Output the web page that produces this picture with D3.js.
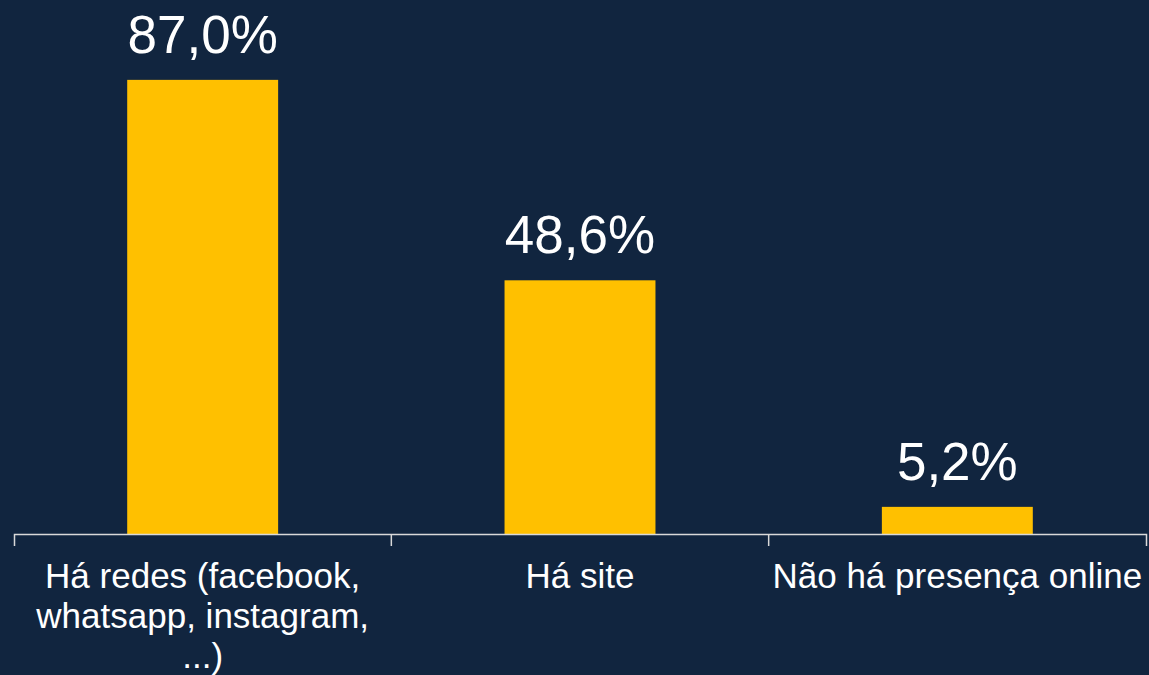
<!DOCTYPE html>
<html>
<head>
<meta charset="utf-8">
<script src="https://cdn.jsdelivr.net/npm/d3@7"></script>
<style>
  html, body { margin: 0; padding: 0; background: #11253f; }
  svg { display: block; }
</style>
</head>
<body>
<svg id="canvas"></svg>
<script>
let categories = ["Há redes (facebook, whatsapp, instagram, ...)", "Há site", "Não há presença online"]
let values = [87.0, 48.6, 5.2]

let width = 1149
let height = 675
let plotLeft = 14
let plotRight = 1146
let baseline = 534
let plotTop = 12

let svg = d3.select("#canvas")
svg.attr("width", width)
svg.attr("height", height)

svg.append("rect")
    .attr("width", width)
    .attr("height", height)
    .attr("fill", "#11253f")

let xScale = d3.scaleBand()
    .domain(categories)
    .range([plotLeft, plotRight])
    .paddingInner(0.6)
    .paddingOuter(0.3)

let yScale = d3.scaleLinear()
    .domain([0, 100])
    .range([baseline, plotTop])

let fmt = v => d3.format(".1f")(v).replace(".", ",") + "%"

svg.selectAll("rect.bar")
    .data(values)
    .enter()
    .append("rect")
    .attr("class", "bar")
    .attr("fill", "#ffc000")
    .attr("x", (d, i) => xScale(categories[i]))
    .attr("width", xScale.bandwidth())
    .attr("y", d => yScale(d))
    .attr("height", d => baseline - yScale(d))

svg.selectAll("text.value")
    .data(values)
    .enter()
    .append("text")
    .attr("class", "value")
    .attr("x", (d, i) => xScale(categories[i]) + xScale.bandwidth() / 2)
    .attr("y", d => yScale(d) - 27)
    .attr("text-anchor", "middle")
    .attr("fill", "#ffffff")
    .style("font-family", "'Liberation Sans', Arial, sans-serif")
    .style("font-size", "53px")
    .text(d => fmt(d))

// wrap long category names into lines
let wrap = (texts, w) => {
    texts.each(function () {
        let text = d3.select(this)
        let words = text.text().split(/\s+/)
        let y = text.attr("y")
        text.text(null)
        let line = []
        let lineNo = 0
        let tspan = text.append("tspan").attr("x", 0).attr("y", y).attr("dy", "0em")
        words.forEach(word => {
            line.push(word)
            tspan.text(line.join(" "))
            if (tspan.node().getComputedTextLength() > w && line.length > 1) {
                line.pop()
                tspan.text(line.join(" "))
                line = [word]
                lineNo++
                tspan = text.append("tspan").attr("x", 0).attr("y", y)
                    .attr("dy", (lineNo * 1.14) + "em").text(word)
            }
        })
    })
}

let xAxis = d3.axisBottom(xScale)
    .tickSize(0)
    .tickSizeOuter(12)
    .tickPadding(0)

let axisG = svg.append("g")
    .attr("id", "x-axis")
    .attr("transform", "translate(0," + baseline + ")")
    .call(xAxis)

axisG.select(".domain")
    .attr("stroke", "#d9d9d9")
    .attr("stroke-width", 1.5)

axisG.selectAll(".tick text")
    .attr("fill", "#ffffff")
    .attr("y", 54)
    .attr("dy", 0)
    .style("font-family", "'Liberation Sans', Arial, sans-serif")
    .style("font-size", "35px")
    .call(wrap, 374)

// separators between categories
let step = xScale.step()
let bounds = categories.slice(1).map(c => xScale(c) - step * 0.3)
axisG.selectAll("line.sep")
    .data(bounds)
    .enter()
    .append("line")
    .attr("class", "sep")
    .attr("x1", d => d)
    .attr("x2", d => d)
    .attr("y1", 0)
    .attr("y2", 12)
    .attr("stroke", "#d9d9d9")
    .attr("stroke-width", 1.5)
</script>
</body>
</html>
